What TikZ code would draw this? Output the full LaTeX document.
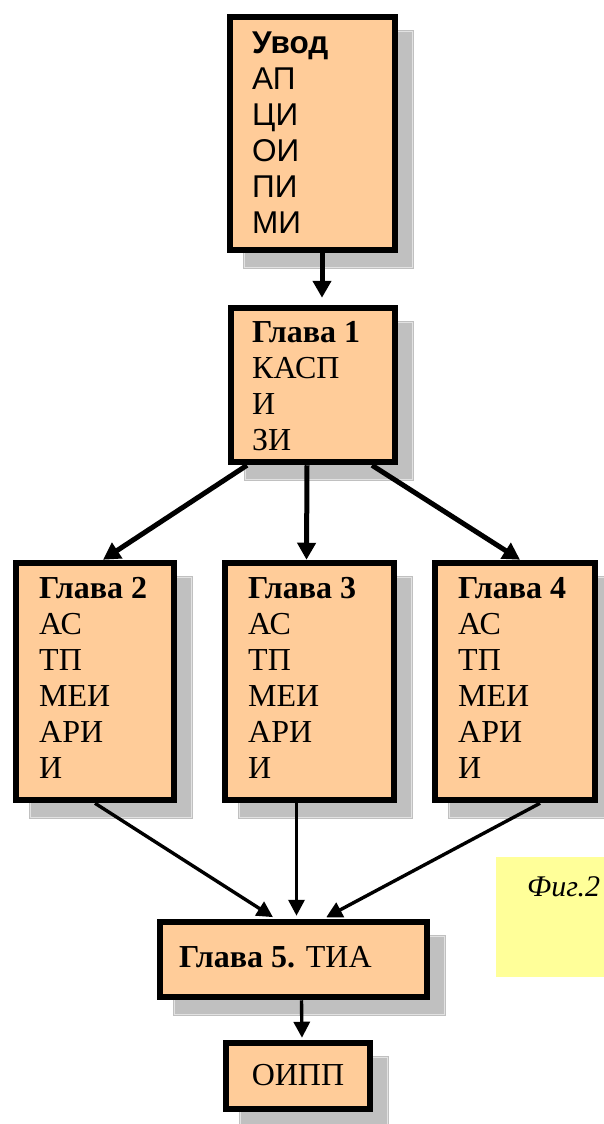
\documentclass[tikz,border=0pt]{standalone}
\usepackage{fontspec}
\setmainfont{Liberation Serif}
\newfontfamily\arialf{Liberation Sans}
\usetikzlibrary{arrows.meta,backgrounds}
\definecolor{peach}{HTML}{FFCC99}
\definecolor{shadowgray}{HTML}{C0C0C0}
\definecolor{shadowline}{HTML}{E2E2E2}
\definecolor{notey}{HTML}{FFFF99}
\tikzset{
  chbox/.style={draw=black, line width=6.5pt, fill=peach, inner sep=0pt, rectangle},
  txt/.style={anchor=base west, inner sep=0pt, font=\fontsize{32}{36}\selectfont},
  sanstxt/.style={anchor=base west, inner sep=0pt, font=\arialf\fontsize{31.5}{36}\selectfont},
  bigarrow/.style={line width=5pt, -{Triangle[length=17pt,width=18pt]}},
  smallarrow/.style={line width=3.4pt, -{Triangle[length=16pt,width=16pt]}},
}
\newcommand{\boxshadow}[1]{%
  \fill[shadowgray] ([shift={(16,16)}]#1.north west) rectangle ([shift={(16,16)}]#1.south east);
  \draw[shadowline, line width=1pt] ([shift={(18,18)}]#1.north west) rectangle ([shift={(14,14)}]#1.south east);
}
\begin{document}
\begin{tikzpicture}[x=1pt,y=-1pt]
\clip (0,0) rectangle (604,1124);
% boxes
\node[chbox, minimum width=165pt, minimum height=233pt] (uvod) at (312.5,133.5) {};
\node[chbox, minimum width=164pt, minimum height=154pt] (g1) at (313,385) {};
\node[chbox, minimum width=158pt, minimum height=237pt] (g2) at (95,681.5) {};
\node[chbox, minimum width=169pt, minimum height=237pt] (g3) at (309.5,681.5) {};
\node[chbox, minimum width=160pt, minimum height=237pt] (g4) at (515,681.5) {};
\node[chbox, minimum width=267pt, minimum height=75pt] (g5) at (293.5,959.5) {};
\node[chbox, minimum width=144pt, minimum height=66pt] (oipp) at (298,1076) {};
% note
\node[fill=notey, inner sep=0pt, minimum width=130pt, minimum height=120pt] (note) at (561,917) {};
\node[anchor=base west, inner sep=0pt, font=\itshape\fontsize{30}{34}\selectfont] (fig) at (527,896) {Фиг.2};
\begin{scope}[on background layer]
\fill[white] (0,0) rectangle (604,1124);
\boxshadow{uvod}
\boxshadow{g1}
\boxshadow{g2}
\boxshadow{g3}
\boxshadow{g4}
\boxshadow{g5}
\boxshadow{oipp}
\end{scope}
% texts
\node[sanstxt] (tu) at (252,53) {\begin{tabular}[t]{@{}l@{}}\textbf{Увод}\\АП\\ЦИ\\ОИ\\ПИ\\МИ\end{tabular}};
\node[txt] (t1) at (252,342) {\begin{tabular}[t]{@{}l@{}}\textbf{Глава 1}\\КАСП\\И\\ЗИ\end{tabular}};
\node[txt] (t2) at (39,598) {\begin{tabular}[t]{@{}l@{}}\textbf{Глава 2}\\АС\\ТП\\МЕИ\\АРИ\\И\end{tabular}};
\node[txt] (t3) at (248,598) {\begin{tabular}[t]{@{}l@{}}\textbf{Глава 3}\\АС\\ТП\\МЕИ\\АРИ\\И\end{tabular}};
\node[txt] (t4) at (458,598) {\begin{tabular}[t]{@{}l@{}}\textbf{Глава 4}\\АС\\ТП\\МЕИ\\АРИ\\И\end{tabular}};
\node[txt] (t5) at (179,967) {\textbf{Глава 5.} ТИА};
\node[anchor=base, inner sep=0pt, font=\fontsize{32}{36}\selectfont] (t6) at (298,1085) {ОИПП};
% connectors
\draw[bigarrow, shorten >=7pt] ([xshift=9.5pt]uvod.south) -- ([xshift=9pt]g1.north);
\draw[bigarrow] ([xshift=-66pt]g1.south) -- ([xshift=8pt]g2.north);
\draw[bigarrow] ([xshift=-6pt]g1.south) -- ([xshift=-3pt]g3.north);
\draw[bigarrow] ([xshift=59pt]g1.south) -- ([xshift=5pt]g4.north);
\draw[smallarrow, shorten >=3pt] (g2.south) -- ([xshift=-18pt]g5.north);
\draw[smallarrow, shorten >=3pt] ([xshift=-13pt]g3.south) -- ([xshift=3pt]g5.north);
\draw[smallarrow, shorten >=3pt] ([xshift=25pt]g4.south) -- ([xshift=30pt]g5.north);
\draw[smallarrow, shorten >=2pt] ([xshift=8pt]g5.south) -- ([xshift=4pt]oipp.north);
\end{tikzpicture}
\end{document}
